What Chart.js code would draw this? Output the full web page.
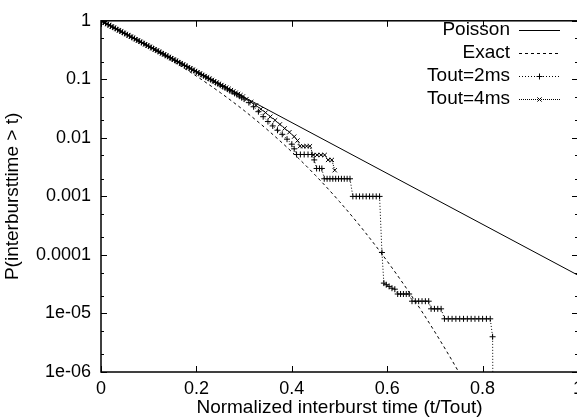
<!DOCTYPE html>
<html>
<head>
<meta charset="utf-8">
<script src="https://cdn.jsdelivr.net/npm/chart.js@4/dist/chart.umd.min.js"></script>
<style>
  html, body { margin: 0; padding: 0; background: #fff; overflow: hidden; }
  #wrap { position: absolute; left: 0; top: 0; width: 600px; height: 419px; }
</style>
</head>
<body>
<div id="wrap"><canvas id="chart" width="600" height="419"></canvas></div>
<script>
// axis ticks
const xTickVals = [0, 0.2, 0.4, 0.6, 0.8, 1];
const xTickLabels = ['0', '0.2', '0.4', '0.6', '0.8', '1'];
const yTickVals = [1, 0.1, 0.01, 0.001, 0.0001, 1e-5, 1e-6];
const yTickLabels = ['1', '0.1', '0.01', '0.001', '0.0001', '1e-05', '1e-06'];
const yMinorVals = [0.5, 0.2, 0.05, 0.02, 0.005, 0.002, 5e-4, 2e-4, 5e-5, 2e-5, 5e-6, 2e-6];

// Poisson (straight line on the log plot)
const poissonX = [0, 1];
const poissonY = [1, 4.5e-5];

// Exact
const exactX = [0, 0.05, 0.1, 0.15, 0.2, 0.25, 0.3, 0.35, 0.4, 0.45, 0.5, 0.55, 0.6, 0.65, 0.7, 0.75, 0.8];
const exactY = [1, 0.604, 0.358, 0.206, 0.1135, 0.0594, 0.0293, 0.0135, 0.00577, 0.00227, 0.000815,
  0.000266, 7.82e-5, 2.06e-5, 4.82e-6, 9.98e-7, 1.82e-7];

// Tout=2ms
const tout2X = [0, 0.005, 0.01, 0.015, 0.02, 0.025, 0.03, 0.035, 0.04, 0.045, 0.05, 0.055, 0.06, 0.065,
  0.07, 0.075, 0.08, 0.085, 0.09, 0.095, 0.1, 0.105, 0.11, 0.115, 0.12, 0.125, 0.13, 0.135, 0.14, 0.145,
  0.15, 0.155, 0.16, 0.165, 0.17, 0.175, 0.18, 0.185, 0.19, 0.195, 0.2, 0.205, 0.21, 0.215, 0.22, 0.225,
  0.23, 0.235, 0.24, 0.245, 0.25, 0.255, 0.26, 0.265, 0.27, 0.275, 0.28, 0.285, 0.29, 0.295, 0.3,
  0.31, 0.32, 0.33, 0.34, 0.35, 0.36, 0.37, 0.38, 0.39, 0.4, 0.405,
  0.41, 0.418, 0.426, 0.434, 0.442, 0.447, 0.452, 0.458, 0.463,
  0.468, 0.474, 0.48, 0.486, 0.492, 0.498, 0.504, 0.51, 0.516, 0.522,
  0.528, 0.535, 0.542, 0.549, 0.556, 0.563, 0.57, 0.577, 0.584, 0.589,
  0.593, 0.598, 0.604, 0.61, 0.616, 0.622, 0.628, 0.634, 0.64, 0.646,
  0.652, 0.659, 0.666, 0.673, 0.68, 0.687, 0.692, 0.699, 0.706, 0.713,
  0.72, 0.728, 0.736, 0.744, 0.752, 0.76, 0.768, 0.776, 0.784, 0.792, 0.8, 0.808, 0.816, 0.821, 0.822];
const tout2Y = [1, 0.952, 0.905, 0.86, 0.818, 0.778, 0.742, 0.704, 0.672, 0.636, 0.608, 0.576, 0.55, 0.521,
  0.498, 0.471, 0.451, 0.426, 0.408, 0.386, 0.369, 0.349, 0.334, 0.316, 0.302, 0.286, 0.273, 0.258, 0.247, 0.234,
  0.223, 0.211, 0.202, 0.191, 0.183, 0.173, 0.165, 0.156, 0.149, 0.141, 0.134, 0.127, 0.121, 0.115, 0.109, 0.104,
  0.0985, 0.0935, 0.0885, 0.084, 0.0795, 0.0755, 0.0715, 0.068, 0.064, 0.061, 0.0575, 0.0545, 0.0515, 0.0485, 0.046,
  0.04, 0.034, 0.028, 0.023, 0.019, 0.016, 0.0135, 0.0115, 0.0095, 0.0078, 0.0065,
  0.0052, 0.0052, 0.0052, 0.0052, 0.0052, 0.0042, 0.003, 0.003, 0.003,
  0.002, 0.002, 0.002, 0.002, 0.002, 0.002, 0.002, 0.002, 0.002, 0.002,
  0.001, 0.001, 0.001, 0.001, 0.001, 0.001, 0.001, 0.001, 0.001, 1.1e-4,
  3.3e-5, 3.1e-5, 2.9e-5, 2.7e-5, 2.6e-5, 2.15e-5, 2.15e-5, 2.15e-5, 2.15e-5, 2.15e-5,
  1.62e-5, 1.62e-5, 1.62e-5, 1.62e-5, 1.62e-5, 1.62e-5, 1.2e-5, 1.2e-5, 1.2e-5, 1.2e-5,
  8.1e-6, 8.1e-6, 8.1e-6, 8.1e-6, 8.1e-6, 8.1e-6, 8.1e-6, 8.1e-6, 8.1e-6, 8.1e-6, 8.1e-6, 8.1e-6, 8.1e-6, 4e-6, 1e-7];

// Tout=4ms
const tout4X = [0.0025, 0.0075, 0.0125, 0.0175, 0.0225, 0.0275, 0.0325, 0.0375, 0.0425, 0.0475, 0.0525,
  0.0575, 0.0625, 0.0675, 0.0725, 0.0775, 0.0825, 0.0875, 0.0925, 0.0975, 0.1025, 0.1075, 0.1125, 0.1175,
  0.1225, 0.1275, 0.1325, 0.1375, 0.1425, 0.1475, 0.1525, 0.1575, 0.1625, 0.1675, 0.1725, 0.1775, 0.1825,
  0.1875, 0.1925, 0.1975, 0.2025, 0.2075, 0.2125, 0.2175, 0.2225, 0.2275, 0.2325, 0.2375, 0.2425, 0.2475,
  0.2525, 0.2575, 0.2625, 0.2675, 0.2725, 0.2775, 0.2825, 0.2875, 0.2925, 0.2975,
  0.305, 0.315, 0.325, 0.335, 0.345, 0.355, 0.365, 0.375, 0.385, 0.395, 0.405, 0.412,
  0.417, 0.424, 0.431, 0.438, 0.445, 0.453, 0.461, 0.469, 0.476, 0.484, 0.49];
const tout4Y = [0.975, 0.928, 0.882, 0.839, 0.799, 0.76, 0.723, 0.688, 0.654, 0.622, 0.592,
  0.563, 0.535, 0.509, 0.485, 0.461, 0.438, 0.417, 0.397, 0.377, 0.359, 0.341, 0.325, 0.309,
  0.294, 0.279, 0.266, 0.253, 0.241, 0.229, 0.218, 0.207, 0.197, 0.187, 0.178, 0.17, 0.161,
  0.153, 0.146, 0.139, 0.132, 0.126, 0.119, 0.114, 0.108, 0.103, 0.0978, 0.093, 0.0885, 0.0842,
  0.08, 0.0762, 0.0725, 0.069, 0.0656, 0.0624, 0.0593, 0.0564, 0.0537, 0.051,
  0.046, 0.041, 0.036, 0.031, 0.027, 0.023, 0.02, 0.017, 0.0145, 0.0125, 0.0105, 0.009,
  0.0072, 0.0072, 0.0072, 0.0072, 0.0051, 0.0051, 0.0051, 0.0051, 0.0042, 0.0042, 0.0028];

const FONT = 'Liberation Sans, Arial, Helvetica, sans-serif';
const toPts = (xs, ys) => xs.map((x, i) => ({ x: x, y: ys[i] }));

// inward ticks + frame + key, gnuplot style
const framePlugin = {
  id: 'frame',
  afterDraw(chart) {
    const { ctx, chartArea: a, scales } = chart;
    ctx.save();
    ctx.strokeStyle = '#000';
    ctx.lineWidth = 1;
    ctx.beginPath();
    xTickVals.forEach((v) => {
      const px = Math.round(scales.x.getPixelForValue(v)) + 0.5;
      ctx.moveTo(px, a.bottom); ctx.lineTo(px, a.bottom - 6);
      ctx.moveTo(px, a.top); ctx.lineTo(px, a.top + 6);
    });
    yTickVals.forEach((v) => {
      const py = Math.round(scales.y.getPixelForValue(v)) + 0.5;
      ctx.moveTo(a.left, py); ctx.lineTo(a.left + 6, py);
      ctx.moveTo(a.right, py); ctx.lineTo(a.right - 6, py);
    });
    yMinorVals.forEach((v) => {
      const py = Math.round(scales.y.getPixelForValue(v)) + 0.5;
      ctx.moveTo(a.left, py); ctx.lineTo(a.left + 3, py);
      ctx.moveTo(a.right, py); ctx.lineTo(a.right - 3, py);
    });
    ctx.stroke();
    ctx.lineWidth = 1.5;
    ctx.strokeRect(a.left, a.top, a.right - a.left, a.bottom - a.top);

    ctx.font = '19px ' + FONT;
    ctx.fillStyle = '#000';
    ctx.textAlign = 'right';
    ctx.textBaseline = 'middle';
    const rows = [30, 53, 76, 99];
    chart.data.datasets.forEach((ds, i) => {
      const y = rows[i];
      ctx.fillText(ds.label, 510, y);
      ctx.save();
      ctx.lineWidth = 1;
      ctx.setLineDash(ds.borderDash || []);
      ctx.beginPath();
      ctx.moveTo(519, y + 0.5); ctx.lineTo(560, y + 0.5);
      ctx.stroke();
      ctx.restore();
      if (ds.pointRadius > 0) {
        ctx.lineWidth = 1;
        Chart.helpers.drawPoint(ctx, { pointStyle: ds.pointStyle, radius: 3, rotation: 0, borderWidth: 1 }, 539.5, y + 0.5);
      }
    });
    ctx.restore();
  }
};

new Chart(document.getElementById('chart'), {
  type: 'scatter',
  data: {
    datasets: [
      {
        label: 'Poisson',
        data: toPts(poissonX, poissonY),
        showLine: true,
        borderColor: '#000',
        borderWidth: 1,
        pointRadius: 0,
      },
      {
        label: 'Exact',
        data: toPts(exactX, exactY),
        showLine: true,
        borderColor: '#000',
        borderWidth: 1,
        borderDash: [3, 3],
        cubicInterpolationMode: 'monotone',
        pointRadius: 0,
      },
      {
        label: 'Tout=2ms',
        data: toPts(tout2X, tout2Y),
        showLine: true,
        borderColor: '#000',
        borderWidth: 1,
        borderDash: [1, 2],
        pointStyle: 'cross',
        pointRadius: 3,
        pointBorderWidth: 1,
        pointBorderColor: '#000',
      },
      {
        label: 'Tout=4ms',
        data: toPts(tout4X, tout4Y),
        showLine: true,
        borderColor: '#000',
        borderWidth: 1,
        borderDash: [1, 1],
        pointStyle: 'crossRot',
        pointRadius: 3,
        pointBorderWidth: 1,
        pointBorderColor: '#000',
      },
    ],
  },
  options: {
    responsive: false,
    animation: false,
    devicePixelRatio: 1,
    layout: { padding: { top: 18, right: 22, left: 0, bottom: 0 } },
    plugins: { legend: { display: false }, tooltip: { enabled: false } },
    scales: {
      x: {
        type: 'linear',
        min: 0,
        max: 1,
        grid: { display: false, drawTicks: false },
        border: { display: false },
        afterBuildTicks: (s) => { s.ticks = xTickVals.map((v) => ({ value: v })); },
        afterFit: (s) => { s.height = 47; },
        ticks: {
          padding: 6,
          color: '#000',
          font: { family: FONT, size: 18 },
          maxRotation: 0,
          callback: (v, i) => xTickLabels[i],
        },
        title: {
          display: true,
          text: 'Normalized interburst time (t/Tout)',
          color: '#000',
          font: { family: FONT, size: 19 },
          padding: { top: 0, bottom: 0 },
        },
      },
      y: {
        type: 'logarithmic',
        min: 1e-6,
        max: 1,
        grid: { display: false, drawTicks: false },
        border: { display: false },
        afterBuildTicks: (s) => { s.ticks = yTickVals.map((v) => ({ value: v })); },
        afterFit: (s) => { s.width = 101; },
        ticks: {
          padding: 10,
          color: '#000',
          font: { family: FONT, size: 18 },
          callback: (v, i) => yTickLabels[i],
        },
        title: {
          display: true,
          text: 'P(interbursttime > t)',
          color: '#000',
          font: { family: FONT, size: 19 },
          padding: { top: 1, bottom: 0 },
        },
      },
    },
  },
  plugins: [framePlugin],
});
</script>
</body>
</html>
